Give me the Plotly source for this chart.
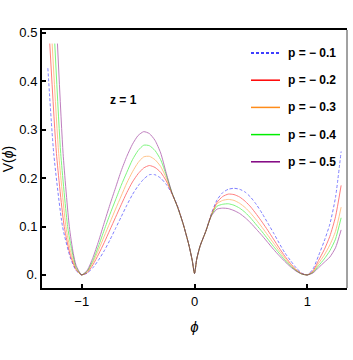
import plotly.graph_objects as go

# phi grid shared by all curves (from the left minimum to the right edge)
phi_grid = [-1.0, -0.95, -0.9, -0.85, -0.8, -0.75, -0.7, -0.65, -0.6, -0.55,
            -0.5, -0.45, -0.4, -0.35, -0.3, -0.25, -0.2, -0.15,
            -0.1, -0.05, -0.02, 0.0, 0.02, 0.05, 0.1,
            0.15, 0.2, 0.25, 0.3, 0.35, 0.4, 0.45, 0.5, 0.55, 0.6, 0.65,
            0.7, 0.75, 0.8, 0.85, 0.9, 0.95, 1.0, 1.05, 1.1, 1.15, 1.2, 1.25, 1.3]

core = [0.105, 0.062, 0.03, 0.003, 0.033, 0.06, 0.09]

# left wall (clipped at the top of the plot range)
wall_phi_p1 = [-1.3, -1.248, -1.17, -1.1, -1.05]
wall_v_p1 = [0.427, 0.251, 0.1, 0.035, 0.009]
wall_phi_p2 = [-1.283, -1.224, -1.155, -1.1, -1.05]
wall_v_p2 = [0.478, 0.251, 0.1, 0.04, 0.011]
wall_phi_p3 = [-1.262, -1.204, -1.14, -1.1, -1.05]
wall_v_p3 = [0.478, 0.251, 0.1, 0.05, 0.013]
wall_phi_p4 = [-1.239, -1.186, -1.125, -1.1, -1.05]
wall_v_p4 = [0.478, 0.251, 0.1, 0.065, 0.016]
wall_phi_p5 = [-1.215, -1.165, -1.11, -1.075, -1.05]
wall_v_p5 = [0.478, 0.251, 0.1, 0.045, 0.02]

v_p1 = ([0, 0.004, 0.015, 0.031, 0.05, 0.072, 0.096, 0.12, 0.144, 0.166,
         0.184, 0.198, 0.207, 0.207, 0.2, 0.187, 0.168, 0.142] + core +
        [0.127, 0.155, 0.17, 0.177, 0.179, 0.177, 0.171, 0.16, 0.145, 0.127,
         0.107, 0.087, 0.066, 0.046, 0.03, 0.015, 0.004, 0, 0.012, 0.04,
         0.07, 0.105, 0.16, 0.255])
v_p2 = ([0, 0.005, 0.021, 0.043, 0.067, 0.093, 0.119, 0.145, 0.17, 0.192,
         0.209, 0.221, 0.226, 0.222, 0.212, 0.194, 0.168, 0.141] + core +
        [0.125, 0.15, 0.162, 0.167, 0.166, 0.161, 0.152, 0.14, 0.125, 0.109,
         0.092, 0.074, 0.056, 0.039, 0.024, 0.011, 0.003, 0, 0.008, 0.03,
         0.052, 0.08, 0.12, 0.185])
v_p3 = ([0, 0.007, 0.026, 0.052, 0.08, 0.108, 0.136, 0.163, 0.19, 0.213,
         0.232, 0.244, 0.245, 0.238, 0.224, 0.2, 0.169, 0.14] + core +
        [0.124, 0.147, 0.154, 0.156, 0.154, 0.148, 0.139, 0.127, 0.113, 0.098,
         0.082, 0.066, 0.05, 0.035, 0.021, 0.01, 0.002, 0, 0.006, 0.024,
         0.041, 0.062, 0.09, 0.14])
v_p4 = ([0, 0.008, 0.03, 0.06, 0.093, 0.125, 0.155, 0.185, 0.212, 0.238,
         0.257, 0.268, 0.267, 0.257, 0.238, 0.206, 0.17, 0.14] + core +
        [0.123, 0.142, 0.146, 0.147, 0.144, 0.138, 0.129, 0.117, 0.103, 0.089,
         0.074, 0.059, 0.045, 0.031, 0.019, 0.009, 0.002, 0, 0.005, 0.019,
         0.033, 0.05, 0.074, 0.118])
v_p5 = ([0, 0.01, 0.036, 0.07, 0.108, 0.145, 0.18, 0.215, 0.245, 0.27,
         0.288, 0.296, 0.292, 0.278, 0.252, 0.21, 0.17, 0.14] + core +
        [0.122, 0.136, 0.138, 0.137, 0.133, 0.127, 0.118, 0.107, 0.094, 0.081,
         0.067, 0.053, 0.04, 0.028, 0.017, 0.008, 0.002, 0, 0.004, 0.015,
         0.026, 0.037, 0.056, 0.093])

labels = ["p = \u2212 0.1", "p = \u2212 0.2", "p = \u2212 0.3", "p = \u2212 0.4", "p = \u2212 0.5"]
colours = ["#0000ff", "#ff0000", "#ff8c1a", "#00ee00", "#800080"]
dashes = ["3px,2px", "solid", "solid", "solid", "solid"]

y_ticks = [0, 0.1, 0.2, 0.3, 0.4, 0.5]
y_tick_text = ["0.", "0.1", "0.2", "0.3", "0.4", "0.5"]
x_ticks = [-1, 0, 1]
x_tick_text = ["\u22121", "0", "1"]

walls = [(wall_phi_p1, wall_v_p1), (wall_phi_p2, wall_v_p2), (wall_phi_p3, wall_v_p3),
         (wall_phi_p4, wall_v_p4), (wall_phi_p5, wall_v_p5)]
series = [v_p1, v_p2, v_p3, v_p4, v_p5]

fig = go.Figure()
for (wx, wy), vals, col, dash, name in zip(walls, series, colours, dashes, labels):
    fig.add_trace(go.Scatter(
        x=wx + phi_grid, y=wy + vals, mode="lines", name=name,
        line=dict(color=col, width=1, dash=dash, shape="spline", smoothing=0.6),
        opacity=0.5, showlegend=False,
    ))

# hand-drawn legend in the upper right corner
W, H, L, R, T, B = 353, 360, 42, 6, 30, 72
pw, ph = W - L - R, H - T - B
for i, (col, dash, name) in enumerate(zip(colours, dashes, labels)):
    py = 53 + i * 27.2
    yp = (H - B - py) / ph
    fig.add_shape(type="line", xref="paper", yref="paper",
                  x0=(251 - L) / pw, x1=(280 - L) / pw, y0=yp, y1=yp,
                  line=dict(color=col, width=1.5, dash=dash))
    fig.add_annotation(text="<b>" + name + "</b>", xref="paper", yref="paper",
                       x=(286 - L) / pw, y=yp, xanchor="left", yanchor="middle",
                       showarrow=False, font=dict(size=12, color="black",
                                                  family="Liberation Sans"))

fig.add_annotation(text="<b>z = 1</b>", x=-0.63, y=0.362, showarrow=False,
                   font=dict(size=12, color="black", family="Liberation Sans"))

# thin right frame edge
fig.add_shape(type="line", xref="paper", yref="paper", x0=1, x1=1, y0=0, y1=1,
              line=dict(color="#444", width=1))

fig.update_layout(
    width=W, height=H,
    margin=dict(l=L, r=R, t=T, b=B),
    paper_bgcolor="white", plot_bgcolor="white",
    font=dict(family="Liberation Sans", size=13, color="black"),
    showlegend=False,
)
fig.update_xaxes(
    range=[-1.352, 1.352], tickvals=x_ticks, ticktext=x_tick_text,
    ticks="inside", ticklen=4, tickwidth=1.5, tickcolor="black",
    showline=True, linecolor="black", linewidth=2, mirror=True,
    showgrid=False, zeroline=False, automargin=False,
    title=dict(text="<i>\u03d5</i>", font=dict(size=15), standoff=14),
)
fig.update_yaxes(
    range=[-0.027, 0.506], tickvals=y_ticks, ticktext=y_tick_text,
    ticks="inside", ticklen=4, tickwidth=1.5, tickcolor="black",
    showline=True, linecolor="black", linewidth=2,
    showgrid=False, zeroline=False, automargin=False,
    title=dict(text="V(<i>\u03d5</i>)", font=dict(size=14), standoff=4),
)

# the page's default body margin would shift the figure by 8px
fig.write_html("out.html", config={"displayModeBar": False},
               post_script="document.body.style.margin='0';")
